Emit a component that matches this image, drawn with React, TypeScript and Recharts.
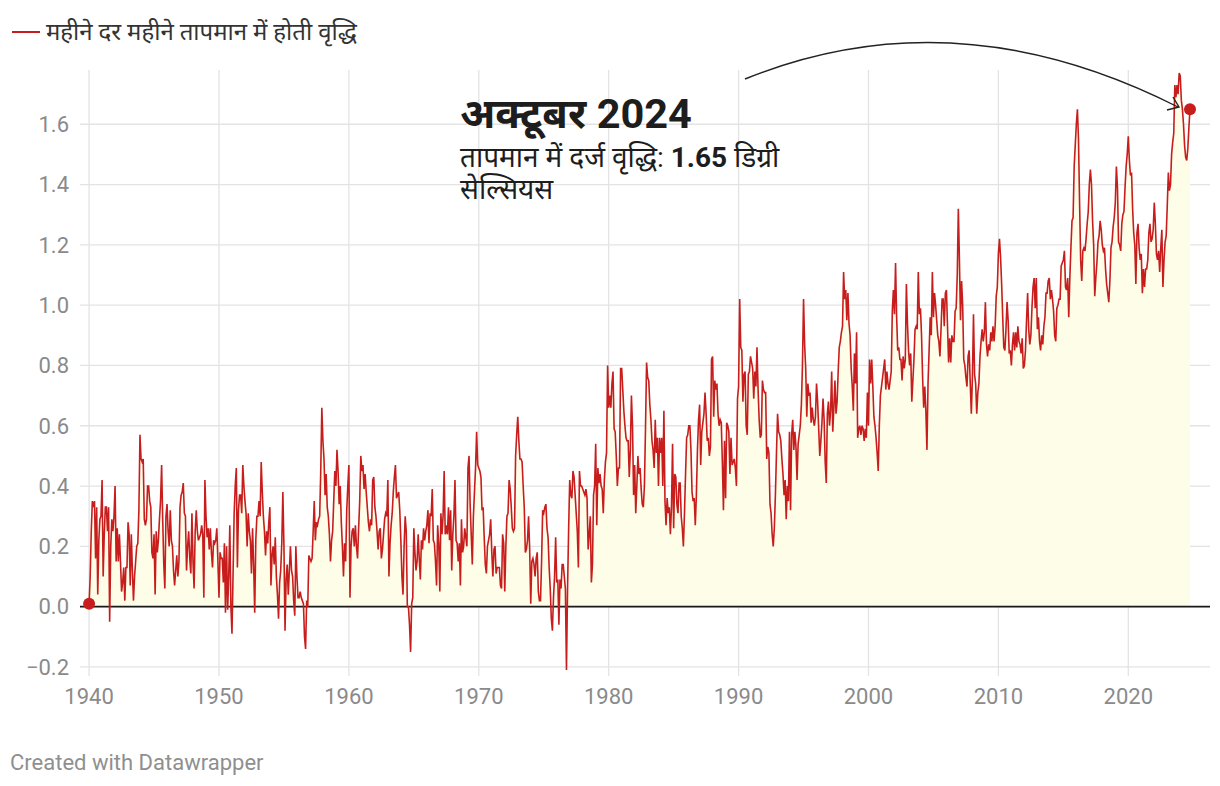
import React from 'react'
import { ComposedChart, Area, Line, XAxis, YAxis, CartesianGrid, ReferenceLine, ReferenceDot } from 'recharts'

// --- monthly values, one row per year ---
const FIRST_YEAR = 1940

const values1940s = [
  0.01, 0.10, 0.25, 0.35, 0.33, 0.35, 0.16, 0.33, 0.04, 0.22, 0.29, 0.30,
  0.42, 0.10, 0.24, 0.33, 0.33, 0.25, 0.33, -0.05, 0.20, 0.29, 0.25, 0.30,
  0.40, 0.15, 0.26, 0.15, 0.24, 0.15, 0.05, 0.08, 0.13, 0.02, 0.13, 0.13,
  0.28, 0.24, 0.07, 0.24, 0.12, 0.02, 0.10, 0.15, 0.20, 0.21, 0.32, 0.57,
  0.49, 0.48, 0.49, 0.29, 0.27, 0.29, 0.40, 0.40, 0.35, 0.33, 0.18, 0.16,
  0.24, 0.04, 0.25, 0.18, 0.22, 0.29, 0.35, 0.47, 0.29, 0.14, 0.06, 0.30,
  0.34, 0.25, 0.20, 0.32, 0.22, 0.20, 0.12, 0.07, 0.12, 0.17, 0.10, 0.15,
  0.33, 0.37, 0.38, 0.41, 0.31, 0.30, 0.12, 0.20, 0.25, 0.16, 0.11, 0.31,
  0.15, 0.06, 0.25, 0.32, 0.25, 0.22, 0.23, 0.24, 0.27, 0.24, 0.03, 0.42,
  0.30, 0.23, 0.26, 0.19, 0.26, 0.18, 0.13, 0.22, 0.21, 0.22, 0.26, 0.15,
]

const values1950s = [
  0.03, 0.18, 0.16, 0.16, 0.08, 0.21, -0.02, 0.20, -0.01, 0.10, 0.27, 0.00,
  -0.09, 0.11, 0.31, 0.40, 0.46, 0.13, 0.32, 0.37, 0.37, 0.31, 0.47, 0.40,
  0.35, 0.31, 0.20, 0.31, 0.25, 0.22, 0.11, 0.26, 0.14, -0.02, 0.22, 0.30,
  0.30, 0.35, 0.30, 0.48, 0.38, 0.30, 0.25, 0.17, 0.25, 0.21, 0.28, 0.33,
  0.07, 0.17, 0.20, 0.14, 0.23, 0.10, 0.04, -0.04, 0.08, 0.12, 0.21, 0.38,
  0.20, -0.08, 0.09, 0.14, 0.04, 0.12, 0.20, 0.12, 0.10, 0.02, -0.03, 0.20,
  0.10, 0.03, 0.03, 0.05, 0.03, 0.02, 0.01, -0.10, -0.14, 0.02, 0.00, 0.17,
  0.16, 0.15, 0.16, 0.25, 0.35, 0.22, 0.28, 0.27, 0.29, 0.30, 0.45, 0.66,
  0.55, 0.49, 0.37, 0.44, 0.33, 0.30, 0.24, 0.15, 0.22, 0.25, 0.35, 0.45,
  0.40, 0.52, 0.45, 0.34, 0.40, 0.28, 0.20, 0.10, 0.21, 0.15, 0.32, 0.40,
]

const values1960s = [
  0.47, 0.03, 0.20, 0.25, 0.26, 0.20, 0.27, 0.20, 0.16, 0.26, 0.35, 0.50,
  0.45, 0.47, 0.39, 0.44, 0.38, 0.33, 0.28, 0.25, 0.29, 0.27, 0.42, 0.43,
  0.33, 0.30, 0.25, 0.19, 0.25, 0.26, 0.16, 0.19, 0.24, 0.29, 0.31, 0.30,
  0.42, 0.10, 0.21, 0.27, 0.31, 0.38, 0.43, 0.47, 0.36, 0.37, 0.38, 0.32,
  0.22, 0.10, 0.04, 0.20, 0.30, 0.25, 0.00, 0.00, -0.06, -0.15, 0.01, 0.03,
  0.26, 0.18, 0.12, 0.15, 0.24, 0.16, 0.09, 0.22, 0.19, 0.26, 0.22, 0.25,
  0.27, 0.32, 0.21, 0.31, 0.30, 0.39, 0.22, 0.21, 0.15, 0.07, 0.27, 0.21,
  0.05, 0.31, 0.24, 0.30, 0.45, 0.24, 0.27, 0.24, 0.33, 0.22, 0.32, 0.12,
  0.24, 0.30, 0.42, 0.22, 0.21, 0.15, 0.21, 0.07, 0.29, 0.18, 0.20, 0.26,
  0.23, 0.20, 0.46, 0.50, 0.34, 0.24, 0.14, 0.30, 0.38, 0.46, 0.58, 0.47,
]

const values1970s = [
  0.46, 0.45, 0.43, 0.32, 0.33, 0.23, 0.14, 0.11, 0.20, 0.22, 0.24, 0.29,
  0.18, 0.10, 0.19, 0.20, 0.11, 0.13, 0.13, 0.13, 0.07, 0.06, 0.24, 0.21,
  0.05, 0.20, 0.30, 0.31, 0.42, 0.39, 0.33, 0.26, 0.25, 0.26, 0.50, 0.57,
  0.63, 0.55, 0.49, 0.49, 0.48, 0.40, 0.33, 0.18, 0.19, 0.22, 0.30, 0.19,
  0.01, 0.15, 0.16, 0.14, 0.10, 0.16, 0.18, 0.05, 0.02, 0.02, 0.15, 0.32,
  0.31, 0.33, 0.34, 0.26, 0.23, 0.13, 0.06, -0.04, -0.08, 0.03, 0.10, 0.23,
  0.08, 0.09, -0.06, 0.09, 0.06, 0.14, 0.14, 0.10, 0.06, -0.21, 0.06, 0.26,
  0.42, 0.37, 0.36, 0.45, 0.43, 0.37, 0.31, 0.25, 0.13, 0.45, 0.40, 0.40,
  0.39, 0.38, 0.37, 0.39, 0.36, 0.19, 0.24, 0.30, 0.08, 0.14, 0.37, 0.40,
  0.54, 0.27, 0.46, 0.41, 0.44, 0.40, 0.39, 0.31, 0.42, 0.48, 0.51, 0.80,
]

const values1980s = [
  0.66, 0.70, 0.66, 0.74, 0.78, 0.59, 0.58, 0.50, 0.40, 0.46, 0.46, 0.79,
  0.79, 0.72, 0.65, 0.60, 0.56, 0.55, 0.55, 0.43, 0.52, 0.70, 0.60, 0.37,
  0.47, 0.31, 0.40, 0.50, 0.44, 0.46, 0.39, 0.34, 0.33, 0.40, 0.59, 0.81,
  0.76, 0.75, 0.67, 0.62, 0.55, 0.52, 0.46, 0.62, 0.51, 0.56, 0.40, 0.56,
  0.51, 0.56, 0.40, 0.65, 0.35, 0.27, 0.36, 0.31, 0.33, 0.24, 0.33, 0.54,
  0.26, 0.44, 0.43, 0.34, 0.31, 0.41, 0.41, 0.30, 0.26, 0.20, 0.31, 0.44,
  0.56, 0.57, 0.60, 0.60, 0.52, 0.38, 0.35, 0.36, 0.27, 0.37, 0.52, 0.62,
  0.67, 0.47, 0.58, 0.61, 0.64, 0.71, 0.64, 0.55, 0.56, 0.50, 0.53, 0.82,
  0.83, 0.63, 0.75, 0.72, 0.74, 0.64, 0.60, 0.62, 0.61, 0.48, 0.32, 0.55,
  0.36, 0.61, 0.60, 0.58, 0.44, 0.56, 0.47, 0.48, 0.49, 0.46, 0.40, 0.69,
]

const values1990s = [
  0.73, 1.02, 0.86, 0.85, 0.68, 0.77, 0.78, 0.60, 0.57, 0.77, 0.78, 0.83,
  0.81, 0.79, 0.69, 0.78, 0.73, 0.86, 0.72, 0.62, 0.56, 0.57, 0.75, 0.72,
  0.71, 0.71, 0.49, 0.53, 0.51, 0.34, 0.31, 0.24, 0.20, 0.26, 0.37, 0.51,
  0.64, 0.58, 0.57, 0.55, 0.49, 0.44, 0.37, 0.42, 0.29, 0.40, 0.35, 0.58,
  0.32, 0.57, 0.62, 0.52, 0.58, 0.53, 0.42, 0.54, 0.57, 0.60, 0.67, 0.80,
  1.02, 0.87, 0.79, 0.63, 0.74, 0.70, 0.71, 0.61, 0.66, 0.62, 0.60, 0.63,
  0.74, 0.68, 0.59, 0.50, 0.55, 0.61, 0.69, 0.62, 0.48, 0.41, 0.64, 0.68,
  0.60, 0.65, 0.78, 0.58, 0.66, 0.75, 0.64, 0.68, 0.78, 0.86, 0.88, 0.91,
  0.93, 1.11, 1.02, 1.05, 0.95, 1.04, 0.94, 0.90, 0.79, 0.73, 0.65, 0.84,
  0.74, 0.91, 0.56, 0.59, 0.60, 0.57, 0.60, 0.59, 0.55, 0.59, 0.56, 0.71,
]

const values2000s = [
  0.60, 0.82, 0.74, 0.82, 0.73, 0.63, 0.60, 0.56, 0.51, 0.45, 0.60, 0.70,
  0.73, 0.76, 0.79, 0.82, 0.72, 0.78, 0.74, 0.72, 0.75, 0.78, 0.98, 1.05,
  0.97, 1.14, 0.96, 0.85, 0.86, 0.82, 0.82, 0.75, 0.83, 0.79, 0.82, 1.07,
  0.94, 0.85, 0.80, 0.84, 0.68, 0.75, 0.82, 0.92, 0.93, 0.92, 1.11, 0.97,
  0.99, 0.90, 0.76, 0.66, 0.73, 0.65, 0.52, 0.74, 0.85, 0.96, 0.90, 1.11,
  0.96, 1.04, 1.00, 0.95, 0.90, 0.88, 0.83, 0.92, 1.02, 1.02, 0.93, 1.04,
  1.05, 0.93, 0.81, 0.89, 0.81, 0.90, 0.88, 0.88, 0.98, 0.99, 1.10, 1.32,
  1.15, 0.95, 1.08, 1.00, 0.82, 0.80, 0.76, 0.73, 0.83, 0.85, 0.74, 0.64,
  0.76, 0.97, 0.77, 0.74, 0.64, 0.71, 0.74, 0.83, 0.88, 0.92, 0.88, 0.91,
  1.01, 0.87, 0.83, 0.87, 0.85, 0.91, 0.88, 0.93, 0.88, 0.93, 1.03, 1.06,
]

const values2010s = [
  1.17, 1.22, 1.16, 1.07, 0.96, 0.86, 0.85, 0.92, 1.01, 0.95, 0.84, 0.85,
  0.80, 0.87, 0.91, 0.85, 0.91, 0.86, 0.93, 0.88, 0.87, 0.84, 0.89, 0.79,
  0.80, 0.85, 0.95, 1.04, 0.92, 0.87, 0.90, 0.99, 1.06, 1.09, 0.99, 1.09,
  0.92, 0.96, 0.88, 0.85, 0.90, 0.87, 0.93, 0.96, 1.04, 1.04, 1.08, 1.09,
  1.02, 1.05, 1.02, 0.98, 0.90, 0.88, 0.99, 1.00, 1.02, 1.02, 1.13, 1.14,
  1.15, 1.18, 1.06, 1.05, 1.09, 0.96, 1.09, 1.19, 1.28, 1.29, 1.46, 1.53,
  1.60, 1.65, 1.55, 1.34, 1.15, 1.08, 1.18, 1.19, 1.18, 1.22, 1.27, 1.31,
  1.40, 1.45, 1.40, 1.28, 1.20, 1.03, 1.09, 1.14, 1.21, 1.23, 1.28, 1.25,
  1.20, 1.18, 1.19, 1.12, 1.07, 1.04, 1.01, 1.08, 1.19, 1.21, 1.26, 1.29,
  1.34, 1.46, 1.39, 1.21, 1.20, 1.18, 1.27, 1.30, 1.31, 1.39, 1.46, 1.50,
]

const values2020s = [
  1.56, 1.48, 1.43, 1.44, 1.32, 1.24, 1.20, 1.07, 1.24, 1.27, 1.19, 1.15,
  1.17, 1.04, 1.12, 1.06, 1.12, 1.12, 1.15, 1.24, 1.27, 1.21, 1.22, 1.25,
  1.34, 1.27, 1.17, 1.15, 1.18, 1.11, 1.19, 1.25, 1.06, 1.15, 1.21, 1.23,
  1.33, 1.44, 1.38, 1.40, 1.50, 1.54, 1.57, 1.73, 1.69, 1.73, 1.70, 1.77,
  1.76, 1.68, 1.65, 1.60, 1.53, 1.49, 1.48, 1.52, 1.59, 1.65,
]

const xTicks = [1940, 1950, 1960, 1970, 1980, 1990, 2000, 2010, 2020]
const yTicks = [-0.2, 0, 0.2, 0.4, 0.6, 0.8, 1.0, 1.2, 1.4, 1.6]

const legendLabel = 'महीने दर महीने तापमान में होती वृद्धि'
const noteTitle = 'अक्टूबर 2024'
const noteLine1 = 'तापमान में दर्ज वृद्धि: '
const noteValue = '1.65'
const noteLine2 = ' डिग्री'
const noteLine3 = 'सेल्सियस'
const credit = 'Created with Datawrapper'

const allValues = [
  ...values1940s, ...values1950s, ...values1960s, ...values1970s, ...values1980s,
  ...values1990s, ...values2000s, ...values2010s, ...values2020s,
]
const data = allValues.map((v, i) => ({ t: FIRST_YEAR + i / 12, v }))
const first = data[0]
const last = data[data.length - 1]

const RED = '#c71e1d'
const FONT = 'Roboto, "Noto Sans", sans-serif'
const tick = { fill: '#8a8a8a', fontSize: 22, fontFamily: FONT }

export default function App() {
  return (
    <div style={{ position: 'absolute', left: 0, top: 0, width: 1220, height: 786, background: '#fff', fontFamily: FONT }}>
      <ComposedChart width={1220} height={786} data={data} margin={{ top: 70, right: 10, bottom: 80, left: 0 }}>
        <CartesianGrid stroke="#e3e3e3" strokeWidth={1.3} syncWithTicks />
        <XAxis
          dataKey="t"
          type="number"
          domain={[1939.3, 2026.29]}
          ticks={xTicks}
          allowDataOverflow
          height={30}
          tick={tick}
          tickSize={0}
          tickMargin={12}
          axisLine={false}
          tickLine={false}
        />
        <YAxis
          type="number"
          domain={[-0.23, 1.78]}
          ticks={yTicks}
          allowDataOverflow
          width={80}
          tick={tick}
          tickSize={0}
          tickMargin={11}
          axisLine={false}
          tickLine={false}
          tickFormatter={(v: number) => (v < 0 ? '−' + Math.abs(v).toFixed(1) : v.toFixed(1))}
        />
        <Area dataKey="v" type="linear" stroke="none" fill="#fdfde8" fillOpacity={1} isAnimationActive={false} />
        <ReferenceLine y={0} stroke="#1a1a1a" strokeWidth={1.6} />
        <Line dataKey="v" type="linear" stroke={RED} strokeWidth={1.6} dot={false} isAnimationActive={false} />
        <ReferenceDot x={first.t} y={first.v} r={6} fill={RED} stroke="none" />
        <ReferenceDot x={last.t} y={last.v} r={6} fill={RED} stroke="none" />
      </ComposedChart>

      <svg width={1220} height={786} style={{ position: 'absolute', left: 0, top: 0, pointerEvents: 'none' }}>
        {/* legend */}
        <line x1={12} y1={32} x2={40} y2={32} stroke={RED} strokeWidth={2} />
        <text x={46} y={40} fontSize={24} fill="#333" fontFamily={FONT}>{legendLabel}</text>

        {/* annotation */}
        <path d="M745,79 Q955,-6 1178,107" fill="none" stroke="#222" strokeWidth={1.4} />
        <path d="M1167,110 L1179,107 L1173,97" fill="none" stroke="#222" strokeWidth={1.4} />
        <text x={460} y={128} fontSize={41.5} fontWeight={700} fill="#1d1d1d" fontFamily={FONT}>{noteTitle}</text>
        <text x={460} y={167} fontSize={28} fill="#1d1d1d" fontFamily={FONT}>
          {noteLine1}
          <tspan fontWeight={700}>{noteValue}</tspan>
          {noteLine2}
        </text>
        <text x={460} y={199} fontSize={28} fill="#1d1d1d" fontFamily={FONT}>{noteLine3}</text>

        {/* footer */}
        <text x={10} y={770} fontSize={22} fill="#8f8f8f" fontFamily={FONT}>{credit}</text>
      </svg>
    </div>
  )
}
